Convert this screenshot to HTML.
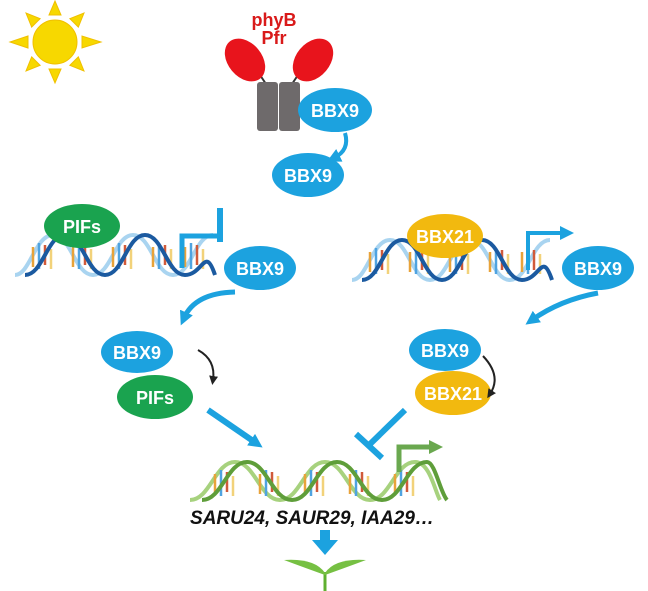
<!DOCTYPE html>
<html><head><style>body{margin:0;background:#fff}svg{display:block}</style></head><body>
<svg width="648" height="591" viewBox="0 0 648 591" xmlns="http://www.w3.org/2000/svg" font-family="Liberation Sans, sans-serif" font-weight="bold">
<defs>
<marker id="ab" markerWidth="14" markerHeight="14" refX="6" refY="7" orient="auto" markerUnits="userSpaceOnUse"><path d="M0,0L14,7L0,14z" fill="#1ca2df"/></marker>
<marker id="ak" markerWidth="9" markerHeight="9" refX="4" refY="4.5" orient="auto" markerUnits="userSpaceOnUse"><path d="M0,0L9,4.5L0,9z" fill="#222"/></marker>
<marker id="ag" markerWidth="14" markerHeight="14" refX="5" refY="7" orient="auto" markerUnits="userSpaceOnUse"><path d="M0,0L14,7L0,14z" fill="#6aa84f"/></marker>
<g id="rungs">
<line x1="0" y1="12" x2="0" y2="32" stroke="#e8a33a" stroke-width="2.5"/>
<line x1="6" y1="8" x2="6" y2="34" stroke="#4fa3e0" stroke-width="2.5"/>
<line x1="12" y1="10" x2="12" y2="30" stroke="#d05a3a" stroke-width="2.5"/>
<line x1="18" y1="14" x2="18" y2="34" stroke="#f2d27a" stroke-width="2.5"/>
</g>
</defs>
<!-- sun -->
<g fill="#f7d800" stroke="#f0c000" stroke-width="1">
<circle cx="55" cy="42" r="22"/>
<g transform="translate(55,42)">
<polygon points="-6,-27 6,-27 0,-41"/><polygon points="-6,27 6,27 0,41"/>
<polygon points="-27,-6 -27,6 -45,0"/><polygon points="27,-6 27,6 46,0"/>
<g transform="rotate(45)"><polygon points="-6,-27 6,-27 0,-41"/><polygon points="-6,27 6,27 0,41"/><polygon points="-27,-6 -27,6 -41,0"/><polygon points="27,-6 27,6 41,0"/></g>
</g></g>
<!-- phyB -->
<text x="274" y="26" fill="#d91a1a" font-size="18" text-anchor="middle">phyB</text>
<text x="274" y="44" fill="#d91a1a" font-size="18" text-anchor="middle">Pfr</text>
<line x1="258" y1="72" x2="266" y2="84" stroke="#333" stroke-width="2"/>
<line x1="300" y1="72" x2="292" y2="84" stroke="#333" stroke-width="2"/>
<ellipse cx="245" cy="60" rx="17" ry="24" transform="rotate(-40 245 60)" fill="#e8141c"/>
<ellipse cx="313" cy="60" rx="17" ry="24" transform="rotate(40 313 60)" fill="#e8141c"/>
<rect x="257" y="82" width="21" height="49" rx="3" fill="#6e6a6b"/>
<rect x="279" y="82" width="21" height="49" rx="3" fill="#6e6a6b"/>
<g fill="#1ca2df"><ellipse cx="335" cy="110" rx="37" ry="22"/><ellipse cx="308" cy="175" rx="36" ry="22"/>
<ellipse cx="260" cy="268" rx="36" ry="22"/><ellipse cx="598" cy="268" rx="36" ry="22"/></g>
<path d="M345,133 Q350,150 334,158" stroke="#1ca2df" stroke-width="4" fill="none" marker-end="url(#ab)"/>
<!-- left DNA -->
<g transform="translate(15,235)">
<path d="M0,40 C15,40 20,0 38,0 C56,0 60,40 78,40 C96,40 100,0 118,0 C136,0 140,40 158,40 C176,40 180,0 198,0" stroke="#a9d4f0" stroke-width="4" fill="none"/>
<use href="#rungs" x="18"/><use href="#rungs" x="58"/><use href="#rungs" x="98"/><use href="#rungs" x="138"/><use href="#rungs" x="170"/>
<path d="M10,40 C28,40 32,0 50,0 C68,0 72,40 90,40 C108,40 112,0 130,0 C148,0 152,40 170,40 C188,40 190,10 200,40" stroke="#1b5aa0" stroke-width="4" fill="none"/>
</g>
<ellipse cx="82" cy="226" rx="38" ry="22" fill="#1aa34f"/>
<path d="M182,268 V236 H220" stroke="#1ca2df" stroke-width="5" fill="none"/>
<line x1="220" y1="208" x2="220" y2="242" stroke="#1ca2df" stroke-width="6"/>
<path d="M235,292 Q195,293 184,318" stroke="#1ca2df" stroke-width="5" fill="none" marker-end="url(#ab)"/>
<!-- right DNA -->
<g transform="translate(352,240)">
<path d="M0,40 C15,40 20,0 38,0 C56,0 60,40 78,40 C96,40 100,0 118,0 C136,0 140,40 158,40 C176,40 180,0 198,0" stroke="#a9d4f0" stroke-width="4" fill="none"/>
<use href="#rungs" x="18"/><use href="#rungs" x="58"/><use href="#rungs" x="98"/><use href="#rungs" x="138"/><use href="#rungs" x="170"/>
<path d="M10,40 C28,40 32,0 50,0 C68,0 72,40 90,40 C108,40 112,0 130,0 C148,0 152,40 170,40 C188,40 190,10 200,40" stroke="#1b5aa0" stroke-width="4" fill="none"/>
</g>
<ellipse cx="445" cy="236" rx="38" ry="22" fill="#f2b90f"/>
<path d="M528,270 V233 H566" stroke="#1ca2df" stroke-width="4" fill="none" marker-end="url(#ab)"/>
<path d="M598,293 Q560,300 532,320" stroke="#1ca2df" stroke-width="5" fill="none" marker-end="url(#ab)"/>
<!-- complexes -->
<ellipse cx="155" cy="397" rx="38" ry="22" fill="#1aa34f"/>
<ellipse cx="137" cy="352" rx="36" ry="21" fill="#1ca2df"/>
<ellipse cx="453" cy="393" rx="38" ry="22" fill="#f2b90f"/>
<ellipse cx="445" cy="350" rx="36" ry="21" fill="#1ca2df"/>
<path d="M198,350 Q216,360 213,380" stroke="#222" stroke-width="2" fill="none" marker-end="url(#ak)"/>
<path d="M483,356 Q502,376 490,394" stroke="#222" stroke-width="2" fill="none" marker-end="url(#ak)"/>
<line x1="208" y1="410" x2="256" y2="443" stroke="#1ca2df" stroke-width="6" marker-end="url(#ab)"/>
<line x1="405" y1="410" x2="368" y2="446" stroke="#1ca2df" stroke-width="6"/>
<line x1="356" y1="434" x2="382" y2="458" stroke="#1ca2df" stroke-width="6"/>
<!-- bottom DNA -->
<g transform="translate(190,462)">
<path d="M0,38 C20,38 25,0 45,0 C65,0 70,38 90,38 C110,38 115,0 135,0 C155,0 160,38 180,38 C200,38 205,0 225,0 C240,0 245,30 250,38" stroke="#a7d27e" stroke-width="4" fill="none"/>
<use href="#rungs" x="25"/><use href="#rungs" x="70"/><use href="#rungs" x="115"/><use href="#rungs" x="160"/><use href="#rungs" x="205"/>
<path d="M12,38 C32,38 37,0 57,0 C77,0 82,38 102,38 C122,38 127,0 147,0 C167,0 172,38 192,38 C212,38 217,0 237,0 C245,0 250,30 257,38" stroke="#5f9e3a" stroke-width="4" fill="none"/>
</g>
<path d="M399,472 V447 H434" stroke="#6aa84f" stroke-width="5" fill="none" marker-end="url(#ag)"/>
<text x="312" y="524" font-size="19" font-style="italic" text-anchor="middle" fill="#111">SARU24, SAUR29, IAA29…</text>
<rect x="320" y="530" width="10" height="12" fill="#1ca2df"/>
<polygon points="312,540 338,540 325,555" fill="#1ca2df"/>
<!-- seedling -->
<path d="M325,591 V572" stroke="#5fb030" stroke-width="3" fill="none"/>
<path d="M325,573 Q315,558 284,560 Q300,566 325,575z" fill="#76c043"/>
<path d="M325,573 Q335,558 366,560 Q350,566 325,575z" fill="#76c043"/>
<g fill="#fff" font-size="18" text-anchor="middle">
<text x="335" y="117">BBX9</text><text x="308" y="182">BBX9</text>
<text x="82" y="233">PIFs</text><text x="260" y="275">BBX9</text>
<text x="445" y="243">BBX21</text><text x="598" y="275">BBX9</text>
<text x="137" y="359">BBX9</text><text x="155" y="404">PIFs</text>
<text x="445" y="357">BBX9</text><text x="453" y="400">BBX21</text>
</g>
</svg>
</body></html>
